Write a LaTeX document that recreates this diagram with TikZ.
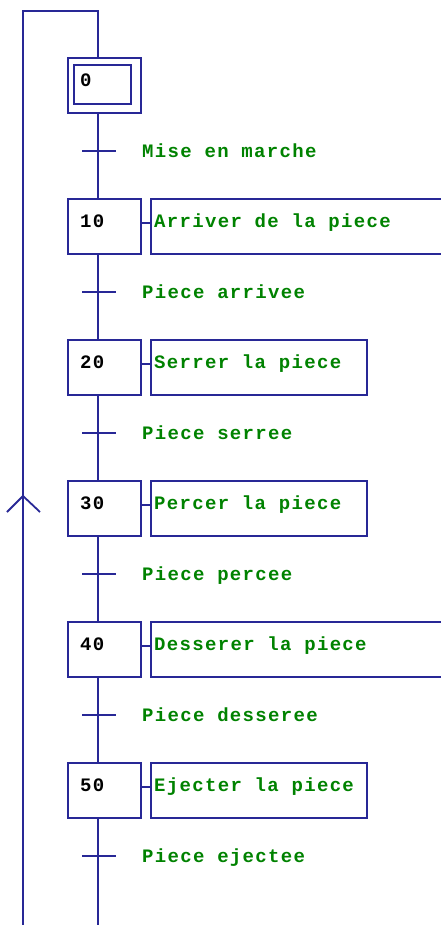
\documentclass[tikz,border=0pt]{standalone}
\usepackage{fontspec}
\newfontfamily\grafmono[LetterSpace=7]{Liberation Mono Bold}
\definecolor{lineblue}{RGB}{40,40,150}
\definecolor{txtgreen}{RGB}{0,130,0}
\tikzset{
  ln/.style={draw=lineblue, line width=1.8pt},
  stepbox/.style={ln, minimum width=73pt, minimum height=55pt, inner sep=0pt, anchor=north west},
  initbox/.style={ln, minimum width=57pt, minimum height=39pt, inner sep=0pt},
  actbox/.style={ln, minimum height=55pt, inner sep=0pt, anchor=north west},
  numtxt/.style={anchor=base west, inner sep=0pt, font=\grafmono\fontsize{19}{19}\selectfont, text=black},
  acttxt/.style={anchor=base west, inner sep=0pt, font=\grafmono\fontsize{19}{19}\selectfont, text=txtgreen},
}
\begin{document}
\begin{tikzpicture}[x=1pt,y=-1pt]
\useasboundingbox (0,0) rectangle (440,925);
% step 0
\node[stepbox] (s0) at (67,57) {};
\node[initbox] (s0i) at (102.5,84.5) {};
\node[numtxt] (n0) at (80,87) {0};
% steps
\foreach \name/\num/\y/\w/\act in {s10/10/198/292/Arriver de la piece, s20/20/339/216/Serrer la piece, s30/30/480/216/Percer la piece, s40/40/621/292/Desserer la piece, s50/50/762/216/Ejecter la piece}{
  \node[stepbox] (\name) at (67,\y) {};
  \node[numtxt] (n\name) at (80,\y+29.5) {\num};
  \node[actbox, minimum width=\w pt] (a\name) at (150,\y) {};
  \node[acttxt] (t\name) at (154,\y+29.5) {\act};
  \draw[ln] ([yshift=3.5pt]\name.east) -- ([yshift=3.5pt]a\name.west);
}
% transitions
\foreach \tn/\y/\lab in {t1/151/Mise en marche, t2/292/Piece arrivee, t3/433/Piece serree, t4/574/Piece percee, t5/715/Piece desseree, t6/856/Piece ejectee}{
  \coordinate (\tn) at (98,\y);
  \draw[ln] (82,\y) -- (116,\y);
  \node[acttxt] (l\tn) at (142,\y+6.5) {\lab};
}
% vertical links
\coordinate (top) at (98,11);
\coordinate (topl) at (23,11);
\coordinate (botl) at (23,925);
\coordinate (botm) at (98,925);
\draw[ln] (s0.north -| top) -- (top) -- (topl) -- (botl);
\draw[ln] (s0.south -| top) -- (t1) -- (s10.north -| top);
\draw[ln] (s10.south -| top) -- (t2) -- (s20.north -| top);
\draw[ln] (s20.south -| top) -- (t3) -- (s30.north -| top);
\draw[ln] (s30.south -| top) -- (t4) -- (s40.north -| top);
\draw[ln] (s40.south -| top) -- (t5) -- (s50.north -| top);
\draw[ln] (s50.south -| top) -- (t6) -- (botm);
% arrow chevron on return line
\coordinate (arr) at (23,496);
\draw[ln] (7,512) -- (arr) -- (40,512);
\end{tikzpicture}
\end{document}
